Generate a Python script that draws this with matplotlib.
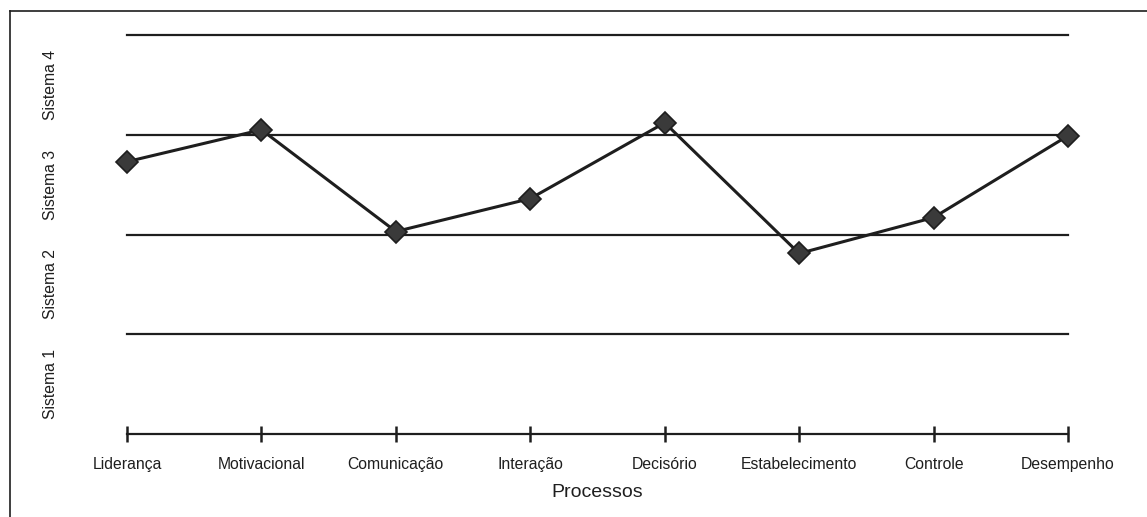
import matplotlib.pyplot as plt
from matplotlib.lines import Line2D

processos = ["Liderança", "Motivacional", "Comunicação", "Interação",
             "Decisório", "Estabelecimento", "Controle", "Desempenho"]
valores = [2.73, 3.05, 2.03, 2.36, 3.12, 1.81, 2.17, 2.99]
sistemas = ["Sistema 1", "Sistema 2", "Sistema 3", "Sistema 4"]
limites = [1, 2, 3, 4]

plt.rcParams["font.family"] = ["Liberation Sans", "DejaVu Sans"]
ink = "#1e1e1e"

fig = plt.figure(figsize=(11.47, 5.17), dpi=100)
ax = fig.add_axes([127 / 1147, 1 - 434 / 517, (1068 - 127) / 1147, (434 - 35) / 517])

for y in limites:
    ax.axhline(y, color=ink, lw=1.6, zorder=1, clip_on=False)

x = list(range(len(processos)))
ax.plot(x, valores, color=ink, lw=2.2, marker="D", markersize=11.5,
        markerfacecolor="#3a3a3a", markeredgecolor=ink, markeredgewidth=1.2,
        clip_on=False, zorder=3)

ax.set_xlim(0, len(processos) - 1)
ax.set_ylim(0, 4)
for s in ["left", "right", "top"]:
    ax.spines[s].set_visible(False)
ax.spines["bottom"].set_color(ink)
ax.spines["bottom"].set_linewidth(1.6)

ax.set_xticks(x)
ax.set_xticklabels(processos, fontsize=11.3, color=ink)
ax.tick_params(axis="x", direction="inout", length=11, width=1.8, color=ink, pad=11)

ax.set_yticks([0.5, 1.5, 2.5, 3.5])
ax.set_yticklabels(sistemas, rotation=90, va="center", fontsize=11.3, color=ink)
ax.tick_params(axis="y", length=0, pad=50)

ax.set_xlabel("Processos", fontsize=14, color=ink, labelpad=9)

# moldura da figura (esquerda e topo)
fig.add_artist(Line2D([9.5 / 1147, 9.5 / 1147], [0, 1 - 11 / 517], color=ink, lw=1.2))
fig.add_artist(Line2D([9.5 / 1147, 1], [1 - 11 / 517, 1 - 11 / 517], color=ink, lw=1.2))

fig.savefig("out.png", dpi=100, facecolor="white")
